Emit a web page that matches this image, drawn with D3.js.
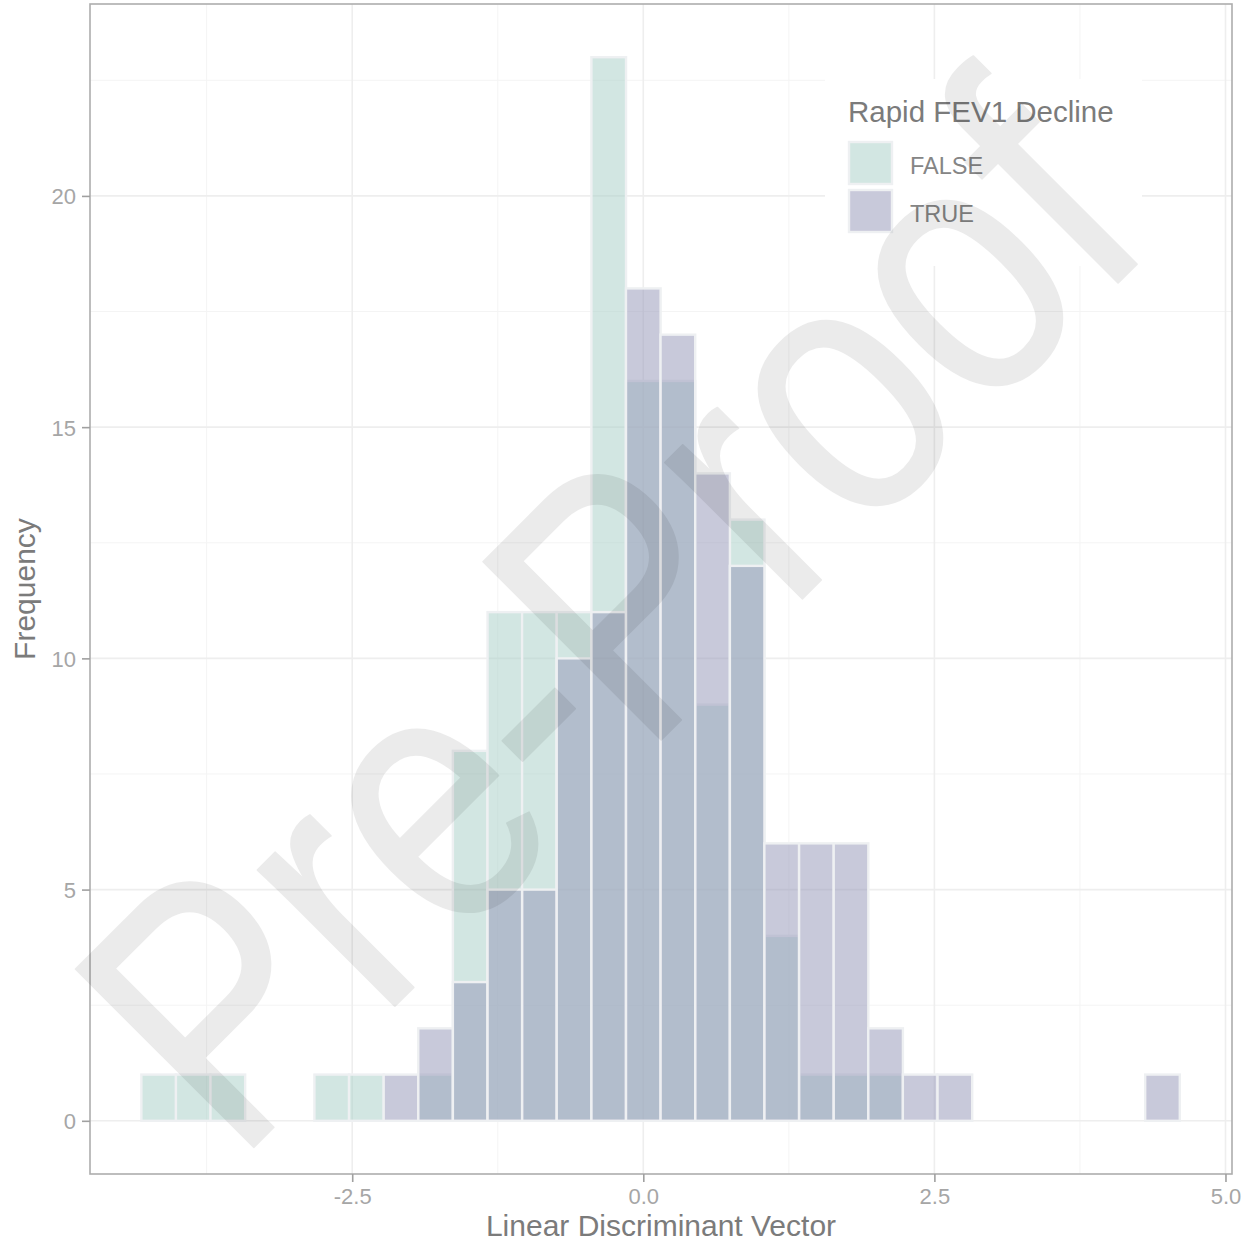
<!DOCTYPE html>
<html>
<head>
<meta charset="utf-8">
<script src="https://cdn.jsdelivr.net/npm/d3@7"></script>
<style>
  html, body { margin: 0; padding: 0; background: #ffffff; }
  svg { display: block; }
</style>
</head>
<body>
<script>
// ---- data ----
const binCenters = [-4.162, -3.865, -3.568, -3.270, -2.973, -2.676, -2.378, -2.081, -1.784, -1.487,
                    -1.189, -0.892, -0.595, -0.297, 0.000, 0.297, 0.595, 0.892, 1.189, 1.487,
                    1.784, 2.081, 2.378, 2.676, 2.973, 3.270, 3.568, 3.865, 4.162, 4.459];
const binWidth = 0.2973;
const falseCounts = [1, 1, 1, 0, 0, 1, 1, 0, 1, 8,
                     11, 11, 11, 23, 16, 16, 9, 13, 4, 1,
                     1, 1, 0, 0, 0, 0, 0, 0, 0, 0];
const trueCounts  = [0, 0, 0, 0, 0, 0, 0, 1, 2, 3,
                     5, 5, 10, 11, 18, 17, 14, 12, 6, 6,
                     6, 2, 1, 1, 0, 0, 0, 0, 0, 1];
const seriesNames = ["FALSE", "TRUE"];
const xTickValues = [-2.5, 0.0, 2.5, 5.0];
const xTickLabels = ["-2.5", "0.0", "2.5", "5.0"];
const xMinorValues = [-3.75, -1.25, 1.25, 3.75];
const yTickValues = [0, 5, 10, 15, 20];
const yTickLabels = ["0", "5", "10", "15", "20"];
const yMinorValues = [2.5, 7.5, 12.5, 17.5, 22.5];
const xTitle = "Linear Discriminant Vector";
const yTitle = "Frequency";
const legendTitle = "Rapid FEV1 Decline";
const watermark = "Pre-Proof";

// ---- layout ----
const W = 1251, H = 1243;
const P = { left: 90, right: 1232, top: 4, bottom: 1174 };
const fillColors = { FALSE: "rgb(168,207,199)", TRUE: "rgb(149,151,184)" };
const fillAlpha = 0.52;
const font = "'Liberation Sans', Arial, Helvetica, sans-serif";

const svg = d3.select("body").append("svg").attr("width", W).attr("height", H)
  .style("font-family", font);

const x = d3.scaleLinear().domain([-4.752, 5.056]).range([P.left, P.right]);
const y = d3.scaleLinear().domain([-1.15, 24.15]).range([P.bottom, P.top]);

// panel background
svg.append("rect").attr("x", P.left).attr("y", P.top)
  .attr("width", P.right - P.left).attr("height", P.bottom - P.top).attr("fill", "#ffffff");

// grid
const grid = svg.append("g");
grid.selectAll(".xminor").data(xMinorValues).join("line")
  .attr("x1", d => x(d)).attr("x2", d => x(d)).attr("y1", P.top).attr("y2", P.bottom)
  .attr("stroke", "#f4f4f4").attr("stroke-width", 1);
grid.selectAll(".yminor").data(yMinorValues).join("line")
  .attr("y1", d => y(d)).attr("y2", d => y(d)).attr("x1", P.left).attr("x2", P.right)
  .attr("stroke", "#f4f4f4").attr("stroke-width", 1);
grid.selectAll(".xmajor").data(xTickValues).join("line")
  .attr("x1", d => x(d)).attr("x2", d => x(d)).attr("y1", P.top).attr("y2", P.bottom)
  .attr("stroke", "#eeeeee").attr("stroke-width", 1.6);
grid.selectAll(".ymajor").data(yTickValues).join("line")
  .attr("y1", d => y(d)).attr("y2", d => y(d)).attr("x1", P.left).attr("x2", P.right)
  .attr("stroke", "#eeeeee").attr("stroke-width", 1.6);

// bars
const series = [
  { name: "FALSE", counts: falseCounts },
  { name: "TRUE", counts: trueCounts }
];
series.forEach(s => {
  const data = binCenters.map((c, i) => ({ c, n: s.counts[i] })).filter(d => d.n > 0);
  svg.append("g").selectAll("rect").data(data).join("rect")
    .attr("x", d => x(d.c - binWidth / 2))
    .attr("width", d => x(d.c + binWidth / 2) - x(d.c - binWidth / 2))
    .attr("y", d => y(d.n))
    .attr("height", d => y(0) - y(d.n))
    .attr("fill", fillColors[s.name]).attr("fill-opacity", fillAlpha)
    .attr("stroke", "#eef0f2").attr("stroke-width", 2.4);
});

// legend
const lg = svg.append("g");
lg.append("rect").attr("x", 825).attr("y", 79).attr("width", 317).attr("height", 187).attr("fill", "#ffffff");
lg.append("text").attr("x", 848).attr("y", 122).text(legendTitle)
  .attr("font-size", 29.5).attr("fill", "#7b7b7b");
seriesNames.forEach((name, i) => {
  lg.append("rect").attr("x", 849).attr("y", 142 + i * 48).attr("width", 43).attr("height", 42)
    .attr("fill", fillColors[name]).attr("fill-opacity", fillAlpha)
    .attr("stroke", "#eef0f2").attr("stroke-width", 2.4);
  lg.append("text").attr("x", 910).attr("y", 174 + i * 47.5).text(name)
    .attr("font-size", 23.5).attr("fill", "#858585");
});

// panel border
svg.append("rect").attr("x", P.left).attr("y", P.top)
  .attr("width", P.right - P.left).attr("height", P.bottom - P.top)
  .attr("fill", "none").attr("stroke", "#adadad").attr("stroke-width", 1.6);

// axes
const xAxis = d3.axisBottom(x).tickValues(xTickValues)
  .tickFormat((d, i) => xTickLabels[i]).tickSize(8).tickPadding(6);
const gx = svg.append("g").attr("transform", `translate(0,${P.bottom})`).call(xAxis);
gx.select(".domain").remove();
gx.selectAll(".tick line").attr("stroke", "#a0a0a0").attr("stroke-width", 1.6);
gx.selectAll(".tick text").attr("font-size", 22).attr("fill", "#a6a6a6")
  .attr("font-family", font);

const yAxis = d3.axisLeft(y).tickValues(yTickValues)
  .tickFormat((d, i) => yTickLabels[i]).tickSize(8).tickPadding(6);
const gy = svg.append("g").attr("transform", `translate(${P.left},0)`).call(yAxis);
gy.select(".domain").remove();
gy.selectAll(".tick line").attr("stroke", "#a0a0a0").attr("stroke-width", 1.6);
gy.selectAll(".tick text").attr("font-size", 22).attr("fill", "#a6a6a6")
  .attr("font-family", font).attr("dy", "0.36em");

// axis titles
svg.append("text").attr("x", (P.left + P.right) / 2).attr("y", 1236)
  .attr("text-anchor", "middle").attr("font-size", 30).attr("fill", "#7b7b7b").text(xTitle);
svg.append("text").attr("transform", `translate(35,${589}) rotate(-90)`)
  .attr("text-anchor", "middle").attr("font-size", 30).attr("fill", "#7b7b7b").text(yTitle);

// watermark overlay
const wm = svg.append("g").attr("opacity", 0.075);
wm.append("text").attr("transform", "translate(236,1165) rotate(-45) scale(1,1.2)")
  .attr("font-size", 305).attr("fill", "#000").attr("stroke", "#000")
  .attr("stroke-width", 1.5).attr("stroke-linejoin", "round")
  .text(watermark);
</script>
</body>
</html>
